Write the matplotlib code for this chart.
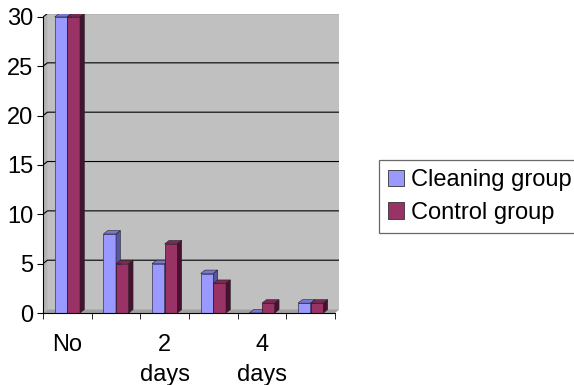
import numpy as np
import matplotlib
matplotlib.use("Agg")
import matplotlib.pyplot as plt
from matplotlib.patches import Polygon, Patch

plt.rcParams['font.family'] = ['Liberation Sans', 'DejaVu Sans']

# datos
categories = ["No", "", "2\ndays", "", "4\ndays", ""]
cleaning = [30, 8, 5, 4, 0, 1]
control = [30, 5, 7, 3, 1, 1]
series_names = ["Cleaning group", "Control group"]
y_ticks = [0, 5, 10, 15, 20, 25, 30]

# colores estilo Excel: frente, arriba, costado
face_cols = ["#9999ff", "#993366"]
top_cols = ["#7777d0", "#7a2a55"]
side_cols = ["#5555a0", "#4a1030"]
wall = "#c0c0c0"

fig = plt.figure(figsize=(5.74, 3.85), dpi=100)
ax = fig.add_axes([43 / 574, 72 / 385, 296.4 / 574, 299.5 / 385])

n = len(categories)
x = np.arange(n)
w = 0.26
dx, dy = 0.09, 0.35  # profundidad del efecto 3D
ymax = y_ticks[-1]

ax.set_xlim(-0.5, n - 0.5 + dx)
ax.set_ylim(0, ymax + dy)
ax.set_facecolor("none")

# paredes
ax.add_patch(Polygon([(-0.5 + dx, dy), (n - 0.5 + dx, dy), (n - 0.5 + dx, ymax + dy),
                      (-0.5 + dx, ymax + dy)], closed=True, fc=wall, ec="none", zorder=0))
ax.add_patch(Polygon([(-0.5, 0), (-0.5 + dx, dy), (-0.5 + dx, ymax + dy), (-0.5, ymax)],
                     closed=True, fc="#b4b4b4", ec="none", zorder=0))
ax.add_patch(Polygon([(-0.5, 0), (n - 0.5, 0), (n - 0.5 + dx, dy), (-0.5 + dx, dy)],
                     closed=True, fc="#a0a0a0", ec="none", zorder=0))

# grilla en la pared del fondo
for v in y_ticks[1:]:
    ax.plot([-0.5, -0.5 + dx, n - 0.5 + dx], [v, v + dy, v + dy], color="black", lw=0.8, zorder=1)

# barras con efecto 3D
for k, vals in enumerate([cleaning, control]):
    lefts = x - w + k * w
    ax.bar(lefts, vals, width=w, align="edge", color=face_cols[k], edgecolor="#333355" if k == 0 else "#331122",
           linewidth=0.5, zorder=2 + k)
    for xl, h in zip(lefts, vals):
        ax.add_patch(Polygon([(xl, h), (xl + w, h), (xl + w + dx, h + dy), (xl + dx, h + dy)],
                             closed=True, fc=top_cols[k], ec="#222222", lw=0.4, zorder=2 + k))
        ax.add_patch(Polygon([(xl + w, 0), (xl + w + dx, dy), (xl + w + dx, h + dy), (xl + w, h)],
                             closed=True, fc=side_cols[k], ec="#222222", lw=0.4, zorder=2 + k))

# ejes
for s in ["top", "right"]:
    ax.spines[s].set_visible(False)
ax.spines["left"].set_bounds(0, ymax)
ax.spines["bottom"].set_bounds(-0.5, n - 0.5)
ax.spines["left"].set_zorder(5)
ax.spines["bottom"].set_zorder(5)

ax.set_yticks(y_ticks)
ax.tick_params(axis="y", direction="out", length=4, labelsize=17, pad=3)
ax.set_xticks(x)
ax.set_xticklabels(categories, fontsize=17, linespacing=1.5, va="top")
ax.set_xticks(np.arange(n + 1) - 0.5, minor=True)
ax.tick_params(axis="x", which="major", length=0, pad=15)
ax.tick_params(axis="x", which="minor", direction="out", length=4)

handles = [Patch(facecolor=face_cols[i], edgecolor="#333333", lw=0.6) for i in range(2)]
leg = fig.legend(handles, series_names, loc="upper left", bbox_to_anchor=(379 / 574, 1 - 160 / 385),
                 fontsize=17, frameon=True, fancybox=False, edgecolor="#444444",
                 handlelength=0.68, handleheight=0.68, handletextpad=0.3, borderpad=0.38,
                 labelspacing=0.46, borderaxespad=0)
leg.get_frame().set_linewidth(0.9)

fig.savefig("out.png", dpi=100)
